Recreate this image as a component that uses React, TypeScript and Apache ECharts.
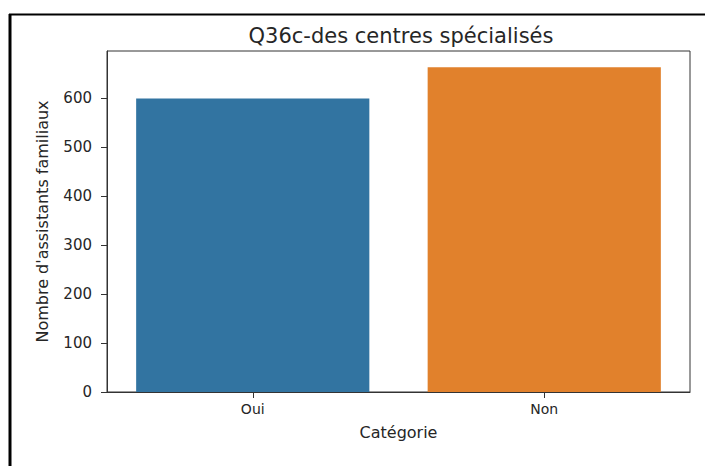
import React, { useEffect, useRef } from "react";
import * as echarts from "echarts";

const categories = ["Oui", "Non"];
const values = [600, 664];
const barColors = ["#3274a1", "#e1812c"];
const yTicks = [0, 100, 200, 300, 400, 500, 600];
const yMax = 697;
const titleText = "Q36c-des centres spécialisés";
const xName = "Catégorie";
const yName = "Nombre d'assistants familiaux";

const FONT = "DejaVu Sans";

export default function App() {
  const ref = useRef<HTMLDivElement>(null);
  useEffect(() => {
    if (!ref.current) return;
    const chart = echarts.init(ref.current, null, { renderer: "svg" });
    chart.setOption({
      animation: false,
      backgroundColor: "#ffffff",
      title: {
        text: titleText,
        left: 396,
        textAlign: "center",
        top: 20,
        textStyle: { fontFamily: FONT, fontSize: 21, fontWeight: "normal", color: "#262626" },
      },
      grid: {
        left: 107,
        right: 15,
        top: 51,
        bottom: 74,
        show: true,
        borderColor: "#333333",
        borderWidth: 1,
        backgroundColor: "transparent",
      },
      xAxis: {
        type: "category",
        data: categories,
        boundaryGap: true,
        name: xName,
        nameLocation: "middle",
        nameGap: 32,
        nameTextStyle: { fontFamily: FONT, fontSize: 16, color: "#262626" },
        axisLine: { lineStyle: { color: "#333333", width: 1 } },
        axisTick: { show: true, alignWithLabel: true, length: 6, lineStyle: { color: "#333333" } },
        axisLabel: { fontFamily: FONT, fontSize: 14, color: "#262626", margin: 10 },
        splitLine: { show: false },
      },
      yAxis: {
        type: "value",
        min: 0,
        max: yMax,
        interval: 100,
        name: yName,
        nameLocation: "middle",
        nameRotate: 90,
        nameGap: 57,
        nameTextStyle: { fontFamily: FONT, fontSize: 16, color: "#262626" },
        axisLine: { show: true, lineStyle: { color: "#333333", width: 1 } },
        axisTick: { show: true, length: 6, lineStyle: { color: "#333333" }, customValues: yTicks },
        axisLabel: { fontFamily: FONT, fontSize: 15, color: "#262626", margin: 15, customValues: yTicks },
        splitLine: { show: false },
      },
      series: [
        {
          type: "bar",
          barCategoryGap: "20%",
          data: values.map((v, i) => ({ value: v, itemStyle: { color: barColors[i] } })),
        },
      ],
      graphic: [
        {
          type: "line",
          shape: { x1: 9, y1: 14.5, x2: 705, y2: 14.5 },
          style: { stroke: "#000000", lineWidth: 2 },
          silent: true,
        },
        {
          type: "line",
          shape: { x1: 10, y1: 14, x2: 10, y2: 466 },
          style: { stroke: "#000000", lineWidth: 3 },
          silent: true,
        },
      ],
    });
    return () => chart.dispose();
  }, []);
  return (
    <div
      ref={ref}
      style={{ position: "fixed", left: 0, top: 0, width: 705, height: 466 }}
    />
  );
}
